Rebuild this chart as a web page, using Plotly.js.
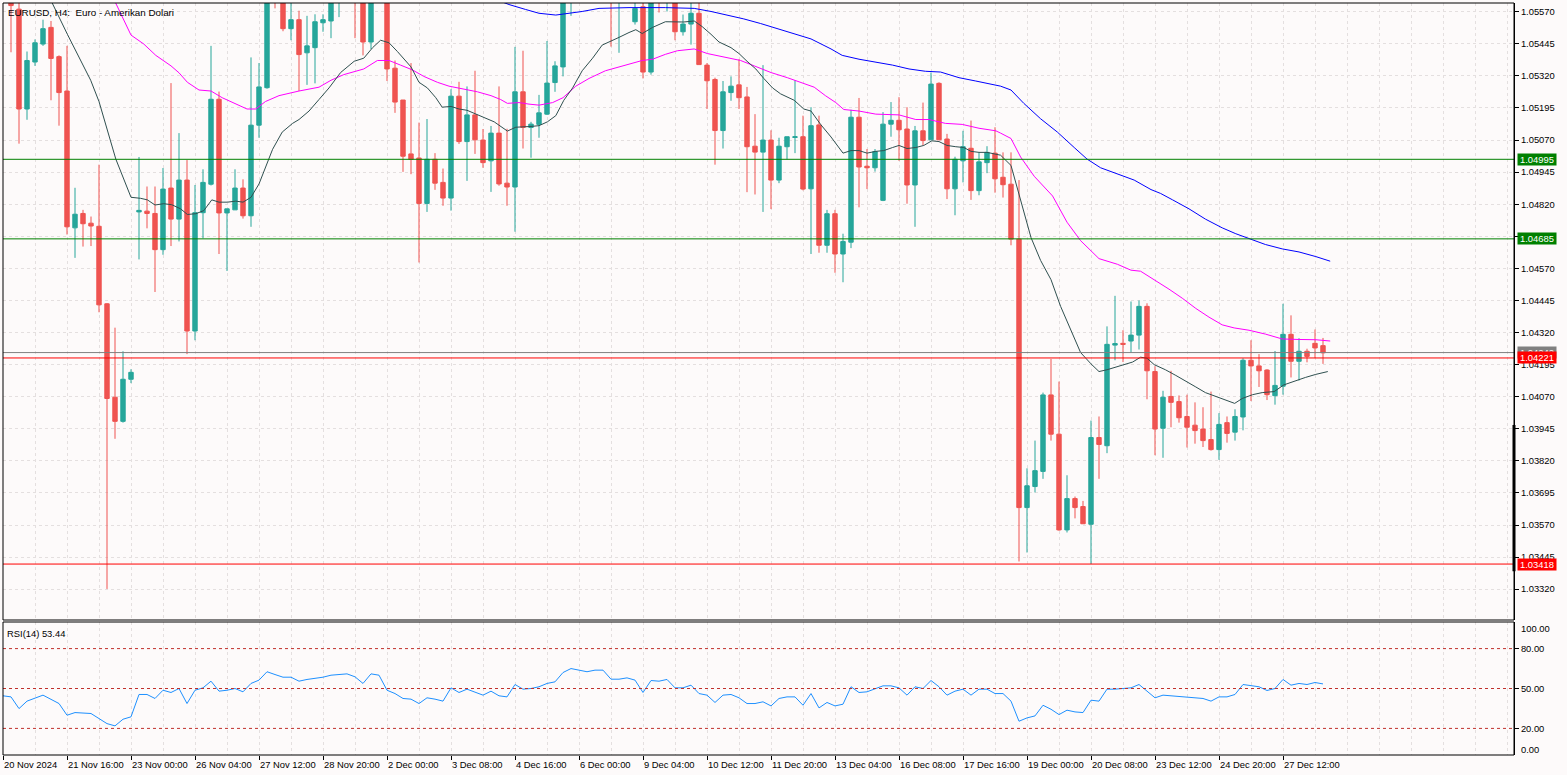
<!DOCTYPE html>
<html>
<head>
<meta charset="utf-8">
<script src="https://cdn.plot.ly/plotly-3.0.1.min.js"></script>
<style>
html,body{margin:0;padding:0;background:#fdfafa;overflow:hidden;}
#chart{width:1567px;height:775px;}
</style>
</head>
<body>
<div id="chart"></div>
<script>
// ---------------- DATA ----------------
const chartTitle = 'EURUSD, H4:\u00a0 Euro - Amerikan Dolari';
const rsiTitle = 'RSI(14) 53.44';

// H4 candles, index 0 = leftmost bar (some bars above the visible window are estimates)
const openP = [
1.05680,1.05700,1.05580,1.05191,1.05374,1.05444,1.05509,1.05395,1.05261,1.04728,
1.04784,1.04746,1.04734,1.04432,1.04068,1.03974,1.04138,1.04790,1.04793,1.04784,
1.04643,1.04883,1.04762,1.04914,1.04326,1.04787,1.04898,1.05229,1.04786,1.04798,
1.04883,1.04775,1.05128,1.05274,1.05700,1.05625,1.05504,1.05539,1.05410,1.05430,
1.05527,1.05534,1.05640,1.05700,1.05760,1.05650,1.05452,1.05640,1.05680,1.05350,
1.05226,1.05016,1.05000,1.04823,1.04995,1.04905,1.04844,1.05241,1.05064,1.05168,
1.05070,1.04989,1.05097,1.04902,1.04887,1.05258,1.05119,1.05131,1.05171,1.05294,
1.05355,1.05640,1.05760,1.05820,1.05780,1.05740,1.05700,1.05640,1.05760,1.05531,
1.05589,1.05335,1.05700,1.05640,1.05680,1.05492,1.05522,1.05564,1.05362,1.05306,
1.05107,1.05255,1.05285,1.05238,1.05046,1.05023,1.05070,1.04914,1.05044,1.05080,
1.05083,1.04880,1.05129,1.04660,1.04783,1.04626,1.04672,1.05159,1.04968,1.04962,
1.04835,1.05132,1.05147,1.05113,1.04895,1.05106,1.05071,1.05291,1.05074,1.04880,
1.04989,1.05038,1.04873,1.04982,1.05019,1.04925,1.04898,1.04684,1.03638,1.03720,
1.03779,1.04077,1.03924,1.03551,1.03673,1.03642,1.03573,1.03911,1.03879,1.04271,
1.04278,1.04287,1.04310,1.04422,1.04168,1.03947,1.04071,1.04051,1.03993,1.03959,
1.03944,1.03903,1.03864,1.03969,1.03932,1.03991,1.04212,1.04190,1.04174,1.04074,
1.04111,1.04313,1.04208,1.04247,1.04278,1.04269];
const highP = [
1.05760,1.05720,1.05609,1.05415,1.05462,1.05539,1.05534,1.05400,1.05437,1.04884,
1.04798,1.04772,1.04974,1.04435,1.04339,1.04247,1.04177,1.05004,1.04889,1.04889,
1.04961,1.05292,1.05097,1.04992,1.04895,1.04956,1.05437,1.05259,1.04802,1.04956,
1.04917,1.05392,1.05370,1.05690,1.05740,1.05660,1.05609,1.05574,1.05554,1.05560,
1.05560,1.05690,1.05750,1.05800,1.05790,1.05680,1.05680,1.05720,1.05710,1.05380,
1.05226,1.05370,1.05138,1.05152,1.05019,1.04959,1.05268,1.05297,1.05279,1.05340,
1.05113,1.05125,1.05279,1.05114,1.05433,1.05418,1.05141,1.05246,1.05456,1.05377,
1.05660,1.05800,1.05850,1.05900,1.05860,1.05800,1.05760,1.05740,1.05850,1.05630,
1.05620,1.05650,1.05760,1.05720,1.05700,1.05559,1.05609,1.05609,1.05370,1.05313,
1.05300,1.05318,1.05385,1.05277,1.05171,1.05362,1.05108,1.05079,1.05083,1.05303,
1.05165,1.05198,1.05165,1.04798,1.04798,1.04705,1.05188,1.05234,1.05035,1.05035,
1.05179,1.05218,1.05237,1.05198,1.05125,1.05216,1.05333,1.05295,1.05094,1.05005,
1.05106,1.05146,1.05022,1.05046,1.05120,1.05022,1.05022,1.04914,1.03791,1.03899,
1.04086,1.04217,1.04129,1.03764,1.03681,1.03664,1.03977,1.03993,1.04344,1.04463,
1.04329,1.04441,1.04445,1.04434,1.04189,1.04093,1.04171,1.04075,1.04078,1.04048,
1.04029,1.04090,1.04006,1.03993,1.04021,1.04220,1.04290,1.04236,1.04177,1.04248,
1.04432,1.04387,1.04298,1.04257,1.04332,1.04299];
const lowP = [
1.05620,1.05412,1.05056,1.05149,1.05359,1.05437,1.05225,1.05126,1.04702,1.04611,
1.04655,1.04657,1.04399,1.03321,1.03906,1.03969,1.04123,1.04605,1.04726,1.04478,
1.04623,1.04657,1.04675,1.04236,1.04290,1.04687,1.04893,1.04626,1.04560,1.04798,
1.04764,1.04732,1.05079,1.05270,1.05583,1.05494,1.05459,1.05261,1.05285,1.05291,
1.05492,1.05467,1.05549,1.05640,1.05467,1.05400,1.05425,1.05615,1.05300,1.05176,
1.04946,1.04937,1.04593,1.04790,1.04876,1.04814,1.04795,1.05055,1.04911,1.05016,
1.04962,1.04868,1.04892,1.04814,1.04713,1.05037,1.05001,1.05079,1.05168,1.05258,
1.05318,1.05554,1.05700,1.05740,1.05700,1.05650,1.05434,1.05410,1.05640,1.05520,
1.05310,1.05325,1.05567,1.05571,1.05459,1.05477,1.05442,1.05364,1.05191,1.04974,
1.05037,1.05223,1.05191,1.04867,1.04858,1.04790,1.04801,1.04902,1.04995,1.05019,
1.04874,1.04626,1.04631,1.04631,1.04553,1.04516,1.04649,1.04808,1.04879,1.04947,
1.04832,1.05083,1.04989,1.04822,1.04732,1.05049,1.05071,1.05071,1.04840,1.04777,
1.04905,1.04837,1.04855,1.04941,1.04865,1.04846,1.04660,1.03428,1.03463,1.03697,
1.03750,1.03899,1.03548,1.03541,1.03596,1.03575,1.03418,1.03750,1.03850,1.04212,
1.04205,1.04242,1.04254,1.04060,1.03842,1.03832,1.03951,1.03969,1.03872,1.03887,
1.03874,1.03860,1.03824,1.03891,1.03899,1.03939,1.04053,1.04108,1.04057,1.04039,
1.04078,1.04145,1.04133,1.04204,1.04220,1.04198];
const closeP = [
1.05700,1.05594,1.05191,1.05380,1.05449,1.05504,1.05388,1.05255,1.04732,1.04781,
1.04744,1.04735,1.04428,1.04063,1.03974,1.04138,1.04165,1.04796,1.04784,1.04643,
1.04879,1.04762,1.04914,1.04326,1.04787,1.04905,1.05229,1.04786,1.04802,1.04883,
1.04775,1.05128,1.05277,1.05650,1.05630,1.05504,1.05539,1.05403,1.05437,1.05531,
1.05539,1.05650,1.05700,1.05760,1.05650,1.05452,1.05640,1.05680,1.05347,1.05218,
1.05007,1.04995,1.04823,1.04995,1.04902,1.04844,1.05241,1.05064,1.05168,1.05071,
1.04982,1.05097,1.04899,1.04887,1.05258,1.05119,1.05132,1.05176,1.05292,1.05359,
1.05640,1.05760,1.05820,1.05780,1.05740,1.05700,1.05640,1.05700,1.05680,1.05583,
1.05335,1.05630,1.05640,1.05680,1.05492,1.05522,1.05564,1.05364,1.05301,1.05107,
1.05258,1.05280,1.05235,1.05044,1.05023,1.05070,1.04914,1.05046,1.05083,1.05083,
1.04879,1.05126,1.04660,1.04783,1.04626,1.04675,1.05159,1.04965,1.04962,1.05025,
1.05132,1.05147,1.05110,1.04895,1.05106,1.05068,1.05288,1.05071,1.04880,1.04995,
1.05044,1.04873,1.04985,1.05022,1.04919,1.04896,1.04684,1.03638,1.03723,1.03782,
1.04077,1.03924,1.03551,1.03673,1.03638,1.03575,1.03911,1.03884,1.04274,1.04277,
1.04274,1.04310,1.04422,1.04171,1.03944,1.04068,1.04048,1.03988,1.03951,1.03938,
1.03899,1.03864,1.03962,1.03927,1.03993,1.04212,1.04190,1.04171,1.04078,1.04114,
1.04313,1.04208,1.04247,1.04227,1.04260,1.04241];

// Fast moving average (dark line): bar index, value
const maFastIdx = [5,5.9,8.05,10.96,12,13.05,14.1,16,17.2,18.05,19,20.1,21.1,22.2,23.05,24.1,25.1,26.1,27,28.05,29.1,30,31,32,32.8,33.7,34.9,36.2,37,38.25,39.5,40.75,42.2,43.9,45.1,46.2,47.2,48.25,49.3,51,52,53.05,54.1,54.9,56,57,58,59.1,60.1,61.4,63.05,64.1,66,67,68.05,69.1,70.1,71.2,72.4,73.7,74.9,76,77,78.25,79.1,79.9,81.2,82.8,85.1,86.4,87.4,88.5,89.5,91,92,93,94.1,95.1,96.2,97.2,98.9,100.1,101,102.2,103.5,105,106,107,108,109.1,110.1,111.2,112,113,114.1,115.1,116.1,117,118,119.1,120.1,121,122,123,124.1,124.7,126,127.2,128.5,129.7,131,132.2,133.5,134.7,136,137,138,139.1,140.1,141.2,142.2,143,143.9,145.3,146.6,147.8,149.1,150.3,151.6,152.8,153.96,154.9,156.2,157.4,158.9,160.1,161.6,162.8,164.1,165.6];
const maFastVal = [1.05640,1.05620,1.05482,1.05303,1.05220,1.05108,1.04996,1.04847,1.04843,1.04837,1.04817,1.04822,1.04818,1.04802,1.04780,1.04783,1.04795,1.04837,1.04828,1.04828,1.04832,1.04828,1.04847,1.04899,1.04959,1.05034,1.05101,1.05135,1.05150,1.05183,1.05228,1.05273,1.05333,1.05377,1.05389,1.05430,1.05459,1.05449,1.05415,1.05355,1.05295,1.05273,1.05235,1.05198,1.05201,1.05191,1.05186,1.05171,1.05156,1.05141,1.05105,1.05120,1.05123,1.05126,1.05141,1.05165,1.05225,1.05273,1.05340,1.05389,1.05440,1.05455,1.05470,1.05489,1.05500,1.05485,1.05509,1.05531,1.05530,1.05534,1.05512,1.05482,1.05452,1.05430,1.05407,1.05377,1.05347,1.05310,1.05273,1.05250,1.05225,1.05191,1.05183,1.05131,1.05082,1.05019,1.05029,1.05029,1.05019,1.05026,1.05029,1.05041,1.05049,1.05037,1.05041,1.05049,1.05067,1.05064,1.05049,1.05044,1.05041,1.05026,1.05022,1.05022,1.05014,1.05011,1.04971,1.04840,1.04690,1.04601,1.04526,1.04422,1.04332,1.04242,1.04198,1.04168,1.04175,1.04186,1.04195,1.04205,1.04224,1.04220,1.04195,1.04175,1.04153,1.04130,1.04108,1.04086,1.04071,1.04056,1.04044,1.04063,1.04078,1.04086,1.04090,1.04116,1.04133,1.04145,1.04157,1.04168];

// Medium moving average (magenta)
const maMidIdx = [13.5,13.9,16,17.6,19.1,21,22,23.05,24.5,26,27.4,29.1,30.5,31.6,32.8,34.5,37,39.5,41,42.6,45.1,46.8,48.25,49.7,51.2,52.6,54.3,55.75,57.6,59.3,61,62.2,63.05,64.5,65.75,67,68.7,70,71.6,73.25,75.3,77.4,79.9,81.2,82.8,84.3,86.4,88.05,90.1,92.2,93.9,96,98.05,99.7,101.4,102.8,104.1,105.1,107,109.1,112,114.1,115.75,117.8,119.9,122,124.1,124.7,126,127.2,128.9,131.2,133,134.7,137,139.3,141,142.2,143.5,144.7,145.75,147.4,149.1,150.75,152.4,153.9,155.75,157.8,159.9,162,164.1,165.9];
const maMidVal = [1.05640,1.05616,1.05479,1.05444,1.05400,1.05359,1.05332,1.05295,1.05265,1.05261,1.05235,1.05210,1.05191,1.05191,1.05220,1.05243,1.05261,1.05276,1.05303,1.05325,1.05347,1.05380,1.05380,1.05362,1.05343,1.05318,1.05295,1.05280,1.05270,1.05258,1.05243,1.05228,1.05213,1.05216,1.05210,1.05206,1.05216,1.05235,1.05280,1.05310,1.05340,1.05359,1.05380,1.05385,1.05404,1.05418,1.05425,1.05407,1.05395,1.05380,1.05359,1.05333,1.05313,1.05295,1.05276,1.05243,1.05216,1.05189,1.05183,1.05171,1.05168,1.05150,1.05150,1.05135,1.05131,1.05116,1.05106,1.05097,1.05076,1.05004,1.04929,1.04852,1.04750,1.04678,1.04608,1.04586,1.04563,1.04559,1.04534,1.04508,1.04489,1.04454,1.04414,1.04380,1.04350,1.04338,1.04329,1.04314,1.04295,1.04293,1.04292,1.04287];

// Slow moving average (blue)
const maSlowIdx = [61,63.25,65.3,67,69.1,70.75,72.4,74.5,78.25,82.8,86.4,88.5,90.55,92.6,94.7,96.8,98.9,101,103.5,104.9,107,109.1,111.2,113.25,115.3,117.2,119.5,121.6,124.1,124.7,126,127.6,129.7,131.8,133.9,135.5,137.2,139.3,141.4,143.5,144.7,146.2,148.25,150.3,152.4,154.1,155.75,157.8,159.9,162,164.1,165.9];
const maSlowVal = [1.05625,1.05598,1.05579,1.05564,1.05557,1.05564,1.05571,1.05583,1.05586,1.05586,1.05583,1.05571,1.05557,1.05542,1.05524,1.05504,1.05482,1.05464,1.05425,1.05400,1.05385,1.05374,1.05362,1.05347,1.05338,1.05335,1.05313,1.05300,1.05285,1.05280,1.05265,1.05213,1.05153,1.05101,1.05041,1.04996,1.04962,1.04937,1.04914,1.04877,1.04862,1.04837,1.04802,1.04762,1.04728,1.04705,1.04687,1.04663,1.04646,1.04634,1.04616,1.04598];

// RSI(14)
const rsiIdx = [0,1,2,3,5,6,7,8,9,11,12,13,14,15,16,17,18,19,20,21,22,23,24,25,26,27,28,29,30,31,32,33,34,35,36,37,38,40,41,43,44,45,46,47,48,49,50,51,52,53,54,55,56,57,58,59,60,61,62,63,64,65,66,67,68,69,70,71,72,73,74,75,76,77,78,79,80,81,82,83,84,85,86,87,88,89,90,91,92,93,94,95,96,97,98,99,100,101,102,103,104,105,106,107,108,109,110,111,112,113,114,115,116,117,118,119,120,121,122,123,124,125,126,127,128,129,130,131,132,133,134,135,136,137,138,139,140,141,142,143,144,145,146,147,148,149,150,151,152,153,154,155,156,157,158,159,160,161,162,163,164,165];
const rsiVal = [44.5,43.7,34.9,40.5,45,42,38.7,29.9,31.9,31.2,27.4,23.6,21.9,26.9,28.7,45.5,45.5,42.5,48.7,47,50,38.7,48.7,50.5,55.5,48,48.7,50,47.5,53.8,56.3,62.6,60.5,58.5,58.5,55.5,56.8,58.5,60,61,58.8,53.8,61,60,48.7,46.2,42.5,42,38.7,43,42,40.5,50.5,47,49.5,47,45,48,44.5,43.7,53,49.5,50,51.3,53.8,55,62,65,63.8,62.6,63.8,63.8,57,57,58,56.3,47,56,55.5,56.8,50.5,50.5,52.5,46.2,45,39.5,45,45.5,43,38.7,38.7,40,36.9,42.5,43.7,43.7,37.4,46.2,35.4,39.5,36.9,38.2,51.3,47,47.5,49.5,52,52,50.5,45,51.3,50,56,51.3,45,48,49.5,45,49.5,49.5,46.2,46.2,40.5,25.4,27.9,29.4,37.4,34.4,30.4,33.7,32.4,31.9,41.2,40.5,49.5,49.5,50,50.5,53,48,43,45,44.5,44,43.5,42.5,42.5,40.5,43.7,43.7,45.5,53,52,51.3,48.5,50,56.8,52.5,53.8,53,54.5,53.44];
const rsiLevels = [80, 50, 20];

// Horizontal price levels and their labels
const priceLevels = [1.04995, 1.04685, 1.04242, 1.04221, 1.03418];

// Time axis labels (bar index -> text)
const timeTickIdx = [0,8,16,24,32,40,48,56,64,72,80,88,96,104,112,120,128,136,144,152,160];
const timeTickText = ['20 Nov 2024','21 Nov 16:00','23 Nov 00:00','26 Nov 04:00','27 Nov 12:00','28 Nov 20:00','2 Dec 00:00','3 Dec 08:00','4 Dec 16:00','6 Dec 00:00','9 Dec 04:00','10 Dec 12:00','11 Dec 20:00','13 Dec 04:00','16 Dec 08:00','17 Dec 16:00','19 Dec 00:00','20 Dec 08:00','23 Dec 12:00','24 Dec 20:00','27 Dec 12:00'];

// ---------------- STYLE ----------------
const FONT = 'Liberation Sans, Arial, sans-serif';
const FS = 9.4;
const BG = '#fdfafa';
const GRID = '#e4dfdf';
const GRIDDASH = '3px,3px';
const levelColors = ['#008000', '#008000', '#808080', '#ff0000', '#ff0000'];
const X_RANGE = [0, 188.875];
const Y_RANGE = [1.03200, 1.05604];
const MAIN_DOMAIN = [0.17952, 1];
const RSI_DOMAIN = [0, 0.17686];

const barIdx = openP.map((_, i) => i);
const minorGrid = [];
for (let v = 0; v <= X_RANGE[1]; v += 4) minorGrid.push(v);

const traces = [
  {
    type: 'candlestick', x: barIdx, open: openP, high: highP, low: lowP, close: closeP,
    xaxis: 'x', yaxis: 'y', hoverinfo: 'skip', whiskerwidth: 0,
    increasing: {line: {color: '#26a69a', width: 1}, fillcolor: '#26a69a'},
    decreasing: {line: {color: '#ef5350', width: 1}, fillcolor: '#ef5350'}
  },
  {type: 'scatter', mode: 'lines', x: maSlowIdx, y: maSlowVal, xaxis: 'x', yaxis: 'y', line: {color: '#0000ff', width: 1}, hoverinfo: 'skip'},
  {type: 'scatter', mode: 'lines', x: maMidIdx, y: maMidVal, xaxis: 'x', yaxis: 'y', line: {color: '#ff00ff', width: 1}, hoverinfo: 'skip'},
  {type: 'scatter', mode: 'lines', x: maFastIdx, y: maFastVal, xaxis: 'x', yaxis: 'y', line: {color: '#2f4f4f', width: 1}, hoverinfo: 'skip'},
  {type: 'scatter', mode: 'lines', x: rsiIdx, y: rsiVal, xaxis: 'x', yaxis: 'y2', line: {color: '#1e90ff', width: 1}, hoverinfo: 'skip'}
];

const shapes = [];
const annotations = [];

// price level lines + labels
priceLevels.forEach((v, i) => {
  shapes.push({type: 'line', xref: 'paper', x0: 0, x1: 1, yref: 'y', y0: v, y1: v, line: {color: levelColors[i], width: 1}, layer: 'above'});
});
priceLevels.forEach((v, i) => {
  annotations.push({xref: 'paper', x: 1, xanchor: 'left', xshift: 3, yref: 'y', y: v, yanchor: 'middle',
    text: v.toFixed(5), showarrow: false, bgcolor: levelColors[i], borderpad: 0, width: 38, height: 11,
    font: {family: FONT, size: FS, color: '#ffffff'}});
});

// RSI level lines
rsiLevels.forEach(v => {
  shapes.push({type: 'line', xref: 'paper', x0: 0, x1: 1, yref: 'y2', y0: v, y1: v, line: {color: '#c0302b', width: 1, dash: 'dot'}});
});

// pane frames
shapes.push({type: 'rect', xref: 'paper', yref: 'paper', x0: 0, x1: 1, y0: MAIN_DOMAIN[0], y1: MAIN_DOMAIN[1], line: {color: '#000', width: 1}, layer: 'above'});
shapes.push({type: 'rect', xref: 'paper', yref: 'paper', x0: 0, x1: 1, y0: RSI_DOMAIN[0], y1: RSI_DOMAIN[1], line: {color: '#000', width: 1}, layer: 'above'});
// thick marker on the price scale
shapes.push({type: 'line', xref: 'paper', x0: 1, x1: 1, yref: 'y', y0: 1.0339, y1: 1.0396, line: {color: '#000', width: 3}, layer: 'above'});

// title + RSI label
annotations.push({xref: 'paper', x: 0, xanchor: 'left', xshift: 3, yref: 'paper', y: 1, yanchor: 'top', yshift: -2,
  text: chartTitle, showarrow: false, font: {family: FONT, size: FS + 0.4, color: '#000'}});
annotations.push({xref: 'paper', x: 0, xanchor: 'left', xshift: 2, yref: 'paper', y: RSI_DOMAIN[1], yanchor: 'top', yshift: -4,
  text: rsiTitle, showarrow: false, font: {family: FONT, size: FS, color: '#000'}});
// RSI scale end labels
annotations.push({xref: 'paper', x: 1, xanchor: 'left', xshift: 5, yref: 'y2', y: 100, yanchor: 'middle', yshift: -6,
  text: '100.00', showarrow: false, font: {family: FONT, size: FS, color: '#000'}});
annotations.push({xref: 'paper', x: 1, xanchor: 'left', xshift: 5, yref: 'y2', y: 0, yanchor: 'middle', yshift: 6,
  text: '0.00', showarrow: false, font: {family: FONT, size: FS, color: '#000'}});

// time labels (left aligned at tick)
timeTickIdx.forEach((k, i) => {
  annotations.push({xref: 'x', x: k, xanchor: 'left', xshift: -1, yref: 'paper', y: 0, yanchor: 'top', yshift: -2,
    text: timeTickText[i], showarrow: false, font: {family: FONT, size: FS, color: '#000'}});
});

const layout = {
  width: 1567, height: 775,
  margin: {l: 3, r: 53, t: 3, b: 20, pad: 0},
  paper_bgcolor: BG, plot_bgcolor: BG,
  showlegend: false,
  boxgap: 0.45, boxgroupgap: 0,
  xaxis: {
    range: X_RANGE, anchor: 'y2', tickmode: 'array', tickvals: timeTickIdx, ticktext: timeTickIdx.map(() => ''),
    showticklabels: false, ticks: 'outside', ticklen: 4, tickcolor: '#000', tickwidth: 1,
    showgrid: true, gridcolor: GRID, griddash: GRIDDASH, gridwidth: 1,
    minor: {tickmode: 'array', tickvals: minorGrid, showgrid: true, gridcolor: GRID, griddash: GRIDDASH, ticks: ''},
    zeroline: false, showline: false, rangeslider: {visible: false}, fixedrange: true
  },
  yaxis: {
    domain: MAIN_DOMAIN, range: Y_RANGE, anchor: 'x', side: 'right',
    tickmode: 'linear', tick0: 1.0332, dtick: 0.00125, tickformat: '.5f',
    ticks: 'outside', ticklen: 4, tickcolor: '#000', showline: true, linecolor: '#000', linewidth: 1,
    showgrid: true, gridcolor: GRID, griddash: GRIDDASH, zeroline: false,
    tickfont: {family: FONT, size: FS, color: '#000'}, fixedrange: true
  },
  yaxis2: {
    domain: RSI_DOMAIN, range: [0, 100], anchor: 'x', side: 'right',
    tickmode: 'array', tickvals: rsiLevels, ticktext: rsiLevels.map(v => v.toFixed(2)),
    ticks: 'outside', ticklen: 4, tickcolor: '#000', showline: true, linecolor: '#000', linewidth: 1,
    showgrid: false, zeroline: false, tickfont: {family: FONT, size: FS, color: '#000'}, fixedrange: true
  },
  shapes: shapes,
  annotations: annotations
};

Plotly.newPlot('chart', traces, layout, {staticPlot: true, displayModeBar: false});
</script>
</body>
</html>
